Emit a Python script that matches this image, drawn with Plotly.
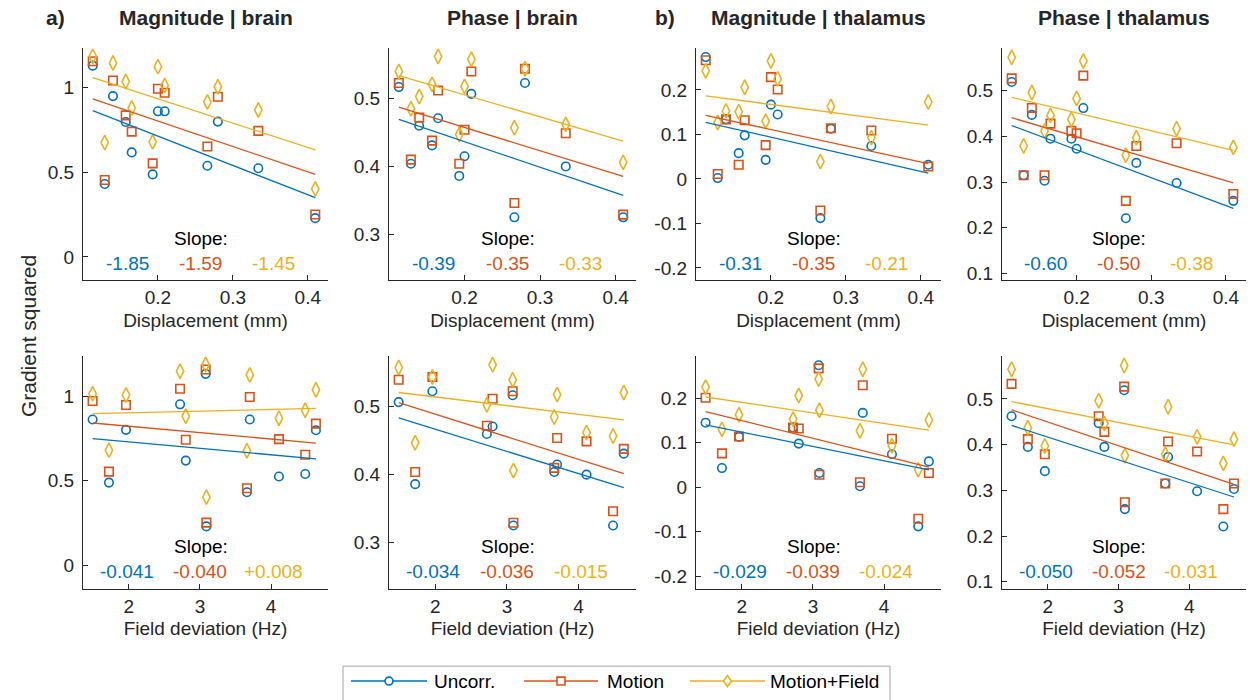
import numpy as np
import plotly.graph_objects as go

# ---------------- data ----------------
subjects = list(range(1, 13))
displacement_mm = [0.113, 0.129, 0.140, 0.157, 0.165, 0.193, 0.200, 0.209, 0.266, 0.280, 0.334, 0.410]
field_dev_hz = [3.08, 3.66, 2.72, 4.63, 2.80, 1.72, 3.70, 1.49, 4.48, 1.96, 4.11, 3.09]

mag_brain_uncorr = [1.131, 0.431, 0.951, 0.798, 0.618, 0.488, 0.861, 0.861, 0.539, 0.800, 0.524, 0.229]
mag_brain_motion = [1.157, 0.455, 1.043, 0.837, 0.741, 0.553, 0.994, 0.971, 0.653, 0.947, 0.745, 0.251]
mag_brain_mfield = [1.186, 0.676, 1.147, 1.037, 0.880, 0.680, 1.125, 1.014, 0.916, 1.006, 0.869, 0.402]

pha_brain_uncorr = [0.517, 0.404, 0.460, 0.431, 0.471, 0.386, 0.415, 0.507, 0.325, 0.523, 0.400, 0.325]
pha_brain_motion = [0.523, 0.410, 0.472, 0.438, 0.512, 0.404, 0.454, 0.540, 0.346, 0.544, 0.449, 0.329]
pha_brain_mfield = [0.540, 0.485, 0.503, 0.521, 0.562, 0.447, 0.518, 0.558, 0.457, 0.544, 0.462, 0.406]

mag_thal_uncorr = [0.274, 0.002, 0.134, 0.058, 0.098, 0.043, 0.167, 0.145, -0.088, 0.113, 0.074, 0.032]
mag_thal_motion = [0.267, 0.011, 0.134, 0.032, 0.132, 0.076, 0.229, 0.201, -0.071, 0.114, 0.109, 0.028]
mag_thal_mfield = [0.243, 0.127, 0.153, 0.151, 0.206, 0.130, 0.265, 0.225, 0.039, 0.163, 0.093, 0.173]

pha_thal_uncorr = [0.519, 0.315, 0.447, 0.303, 0.395, 0.395, 0.373, 0.462, 0.221, 0.342, 0.298, 0.259]
pha_thal_motion = [0.527, 0.315, 0.462, 0.315, 0.428, 0.412, 0.407, 0.533, 0.259, 0.379, 0.385, 0.274]
pha_thal_mfield = [0.573, 0.379, 0.496, 0.412, 0.446, 0.437, 0.483, 0.565, 0.359, 0.397, 0.417, 0.376]

panel_titles = ["Magnitude | brain", "Phase | brain", "Magnitude | thalamus", "Phase | thalamus"]
series_names = ["Uncorr.", "Motion", "Motion+Field"]

slope_text_top = [["-1.85", "-1.59", "-1.45"], ["-0.39", "-0.35", "-0.33"],
                  ["-0.31", "-0.35", "-0.21"], ["-0.60", "-0.50", "-0.38"]]
slope_text_bottom = [["-0.041", "-0.040", "+0.008"], ["-0.034", "-0.036", "-0.015"],
                     ["-0.029", "-0.039", "-0.024"], ["-0.050", "-0.052", "-0.031"]]

ytick_vals = [[0, 0.5, 1], [0.3, 0.4, 0.5], [-0.2, -0.1, 0, 0.1, 0.2], [0.1, 0.2, 0.3, 0.4, 0.5]]
ytick_text = [["0", "0.5", "1"], ["0.3", "0.4", "0.5"], ["-0.2", "-0.1", "0", "0.1", "0.2"],
              ["0.1", "0.2", "0.3", "0.4", "0.5"]]
xtick_top = [0.2, 0.3, 0.4]
xtick_bottom = [2, 3, 4]

# ---------------- styling ----------------
W, H = 1250, 700
FONT = "Liberation Sans, Arial, Helvetica, sans-serif"
TXT = "#262626"
colors = ["#0072BD", "#D95319", "#EDB120"]
symbols = ["circle-open", "square-open", "diamond-tall-open"]
msizes = [8.5, 8.5, 10.5]

col_px = [(83, 328), (389, 636), (696, 941), (1002, 1246)]
row_px = [(48, 282), (358, 592)]
y_ranges = [[-0.139, 1.237], [0.232, 0.575], [-0.228, 0.295], [0.085, 0.594]]
x_range_top = [0.1, 0.427]
x_range_bottom = [1.355, 4.80]


def px(x):
    return x / W


def py(y):
    return 1 - y / H


metrics = [
    [mag_brain_uncorr, mag_brain_motion, mag_brain_mfield],
    [pha_brain_uncorr, pha_brain_motion, pha_brain_mfield],
    [mag_thal_uncorr, mag_thal_motion, mag_thal_mfield],
    [pha_thal_uncorr, pha_thal_motion, pha_thal_mfield],
]

fig = go.Figure()
layout = dict(width=W, height=H, margin=dict(l=0, r=0, t=0, b=0),
              paper_bgcolor="white", plot_bgcolor="white",
              font=dict(family=FONT, size=19, color=TXT), showlegend=False)
annotations = []
shapes = []

for r in range(2):
    xs = displacement_mm if r == 0 else field_dev_hz
    for c in range(4):
        k = r * 4 + c + 1
        xa = "x" if k == 1 else f"x{k}"
        ya = "y" if k == 1 else f"y{k}"
        xl, xr = col_px[c]
        yt, yb = row_px[r]
        xdom = [px(xl), px(xr)]
        ydom = [py(yb), py(yt)]
        for s in range(3):
            fig.add_trace(go.Scatter(
                x=xs, y=metrics[c][s], mode="markers", xaxis=xa, yaxis=ya, name=series_names[s],
                marker=dict(symbol=symbols[s], size=msizes[s], color=colors[s],
                            line=dict(width=1.6, color=colors[s])),
                showlegend=False, hoverinfo="x+y"))
        for s in range(3):
            p = np.polyfit(xs, metrics[c][s], 1)
            xx = np.array([min(xs), max(xs)])
            fig.add_trace(go.Scatter(
                x=xx, y=np.polyval(p, xx), mode="lines", xaxis=xa, yaxis=ya, name=series_names[s],
                line=dict(color=colors[s], width=1.3), showlegend=False, hoverinfo="skip"))
        axis_common = dict(showline=True, linecolor=TXT, linewidth=1.2, ticks="inside",
                           ticklen=5, tickwidth=1, tickcolor=TXT, showgrid=False,
                           zeroline=False, mirror=False,
                           tickfont=dict(family=FONT, size=19, color=TXT))
        xname = "xaxis" if k == 1 else f"xaxis{k}"
        yname = "yaxis" if k == 1 else f"yaxis{k}"
        layout[xname] = dict(axis_common, domain=xdom, anchor=ya,
                             range=x_range_top if r == 0 else x_range_bottom,
                             tickvals=xtick_top if r == 0 else xtick_bottom,
                             ticktext=[f"{v:g}" for v in (xtick_top if r == 0 else xtick_bottom)],
                             title=dict(text="Displacement (mm)" if r == 0 else "Field deviation (Hz)",
                                        font=dict(family=FONT, size=19, color=TXT), standoff=6))
        layout[yname] = dict(axis_common, domain=ydom, anchor=xa, range=y_ranges[c],
                             tickvals=ytick_vals[c], ticktext=ytick_text[c],
                             ticklabelstandoff=4)
        labels = slope_text_top[c] if r == 0 else slope_text_bottom[c]
        annotations.append(dict(text="Slope:", xref=f"{xa} domain", yref=f"{ya} domain",
                                x=0.48, y=0.18, showarrow=False, xanchor="center", yanchor="middle",
                                font=dict(family=FONT, size=19, color="black")))
        for s, xpos in enumerate([0.18, 0.478, 0.776]):
            annotations.append(dict(text=labels[s], xref=f"{xa} domain", yref=f"{ya} domain",
                                    x=xpos, y=0.073, showarrow=False, xanchor="center",
                                    yanchor="middle",
                                    font=dict(family=FONT, size=19, color=colors[s])))
        if r == 0:
            annotations.append(dict(text=f"<b>{panel_titles[c]}</b>", xref="paper", yref="paper",
                                    x=px((xl + xr) / 2), y=py(18), showarrow=False,
                                    xanchor="center", yanchor="middle",
                                    font=dict(family=FONT, size=21, color=TXT)))

annotations.append(dict(text="<b>a)</b>", xref="paper", yref="paper", x=px(55), y=py(18),
                        showarrow=False, xanchor="center", yanchor="middle",
                        font=dict(family=FONT, size=21, color=TXT)))
annotations.append(dict(text="<b>b)</b>", xref="paper", yref="paper", x=px(665), y=py(18),
                        showarrow=False, xanchor="center", yanchor="middle",
                        font=dict(family=FONT, size=21, color=TXT)))
annotations.append(dict(text="Gradient squared", xref="paper", yref="paper", x=px(28),
                        y=py(338), showarrow=False, textangle=-90, xanchor="center",
                        yanchor="middle", font=dict(family=FONT, size=21, color=TXT)))

# ---------------- legend box (drawn like the MATLAB legend) ----------------
leg_box = (343, 670, 890, 706)
leg_y = 685
leg_lines = [(351, 427), (524, 598), (690, 765)]
leg_text_x = [432, 605, 768]
shapes.append(dict(type="rect", xref="paper", yref="paper", x0=px(leg_box[0]), x1=px(leg_box[2]),
                   y0=py(leg_box[3]), y1=py(leg_box[1]), line=dict(color="#A6A6A6", width=1),
                   fillcolor="white", layer="above"))
for s in range(3):
    x0, x1 = leg_lines[s]
    xm = (x0 + x1) / 2
    shapes.append(dict(type="line", xref="paper", yref="paper", x0=px(x0), x1=px(x1),
                       y0=py(leg_y), y1=py(leg_y), line=dict(color=colors[s], width=1.5),
                       layer="above"))
    if s == 0:
        shapes.append(dict(type="circle", xref="paper", yref="paper", x0=px(xm - 4), x1=px(xm + 4),
                           y0=py(leg_y - 4), y1=py(leg_y + 4), fillcolor="white",
                           line=dict(color=colors[s], width=1.6), layer="above"))
    elif s == 1:
        shapes.append(dict(type="rect", xref="paper", yref="paper", x0=px(xm - 4), x1=px(xm + 4),
                           y0=py(leg_y - 4), y1=py(leg_y + 4), fillcolor="white",
                           line=dict(color=colors[s], width=1.6), layer="above"))
    else:
        path = (f"M {px(xm)} {py(leg_y - 5.5)} L {px(xm + 4)} {py(leg_y)} "
                f"L {px(xm)} {py(leg_y + 5.5)} L {px(xm - 4)} {py(leg_y)} Z")
        shapes.append(dict(type="path", xref="paper", yref="paper", path=path, fillcolor="white",
                           line=dict(color=colors[s], width=1.6), layer="above"))
    annotations.append(dict(text=series_names[s], xref="paper", yref="paper", x=px(leg_text_x[s]),
                            y=py(leg_y), showarrow=False, xanchor="left", yanchor="middle",
                            font=dict(family=FONT, size=19, color="black")))

layout["annotations"] = annotations
layout["shapes"] = shapes
fig.update_layout(**layout)
fig.write_html("out.html", config={"displayModeBar": False},
               post_script="document.body.style.margin='0px';document.body.style.overflow='hidden';")
